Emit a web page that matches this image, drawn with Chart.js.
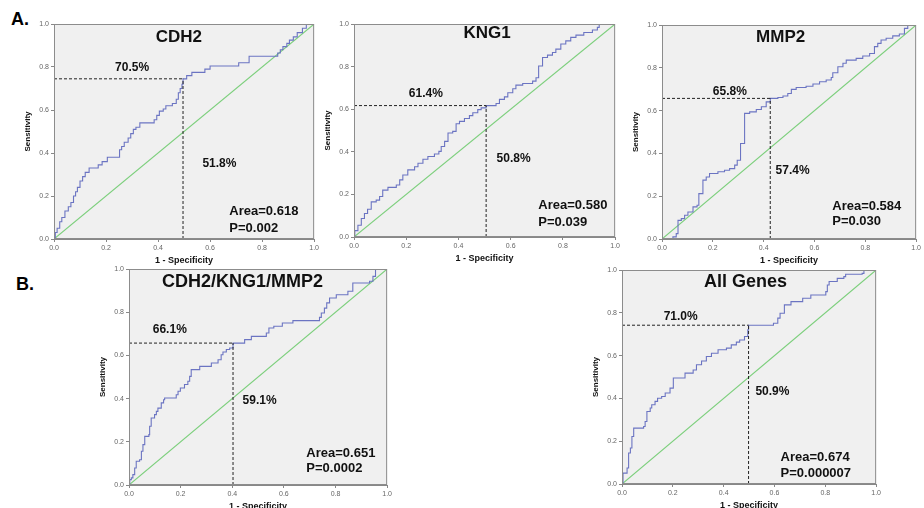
<!DOCTYPE html>
<html>
<head>
<meta charset="utf-8">
<script src="https://cdn.jsdelivr.net/npm/chart.js@4"></script>
<style>
  body { margin: 0; width: 924px; height: 508px; overflow: hidden; background: #fff; position: relative; font-family: Arial, "Liberation Sans", sans-serif; }
  canvas { position: absolute; }
  .tag { position: absolute; font-weight: bold; font-size: 18px; color: #000; }
</style>
</head>
<body>
<div class="tag" style="left:11px; top:9px;">A.</div>
<div class="tag" style="left:16px; top:274px;">B.</div>
<canvas id="c1"></canvas>
<canvas id="c2"></canvas>
<canvas id="c3"></canvas>
<canvas id="c4"></canvas>
<canvas id="c5"></canvas>
<script>
// ROC curves: x = 1 - specificity where sensitivity rises, y = new sensitivity
const cdh2Fpr = [0, 0.005, 0.012, 0.022, 0.03, 0.042, 0.055, 0.065, 0.075, 0.083, 0.09, 0.1, 0.11, 0.12, 0.135, 0.17, 0.185, 0.205, 0.252, 0.26, 0.27, 0.285, 0.295, 0.305, 0.315, 0.33, 0.385, 0.395, 0.405, 0.42, 0.43, 0.455, 0.47, 0.478, 0.485, 0.492, 0.496, 0.51, 0.53, 0.58, 0.6, 0.71, 0.75, 0.86, 0.87, 0.88, 0.895, 0.905, 0.92, 0.935, 0.955, 0.97, 1.0];
const cdh2Tpr = [0, 0.03, 0.05, 0.08, 0.1, 0.13, 0.15, 0.17, 0.2, 0.22, 0.24, 0.27, 0.29, 0.31, 0.33, 0.345, 0.36, 0.38, 0.415, 0.43, 0.45, 0.47, 0.49, 0.51, 0.52, 0.54, 0.555, 0.575, 0.595, 0.605, 0.62, 0.63, 0.65, 0.68, 0.7, 0.72, 0.745, 0.76, 0.775, 0.79, 0.805, 0.82, 0.85, 0.865, 0.88, 0.895, 0.91, 0.925, 0.94, 0.96, 0.98, 1.0, 1.0];

const kng1Fpr = [0, 0.003, 0.015, 0.028, 0.04, 0.052, 0.066, 0.085, 0.098, 0.11, 0.13, 0.162, 0.175, 0.187, 0.206, 0.232, 0.245, 0.264, 0.283, 0.308, 0.325, 0.334, 0.347, 0.36, 0.378, 0.391, 0.404, 0.423, 0.442, 0.455, 0.474, 0.487, 0.506, 0.544, 0.557, 0.576, 0.589, 0.608, 0.62, 0.646, 0.684, 0.697, 0.707, 0.722, 0.741, 0.76, 0.773, 0.792, 0.811, 0.83, 0.85, 0.88, 0.913, 0.932, 0.939, 1.0];
const kng1Tpr = [0, 0.03, 0.055, 0.087, 0.11, 0.13, 0.165, 0.173, 0.19, 0.22, 0.233, 0.244, 0.268, 0.291, 0.315, 0.33, 0.346, 0.365, 0.378, 0.39, 0.402, 0.425, 0.449, 0.488, 0.496, 0.532, 0.543, 0.556, 0.57, 0.583, 0.598, 0.606, 0.617, 0.627, 0.646, 0.658, 0.677, 0.696, 0.713, 0.721, 0.732, 0.748, 0.803, 0.843, 0.854, 0.866, 0.882, 0.906, 0.921, 0.937, 0.948, 0.96, 0.972, 0.984, 1.0, 1.0];

const mmp2Fpr = [0, 0.043, 0.056, 0.063, 0.076, 0.089, 0.102, 0.122, 0.138, 0.145, 0.161, 0.174, 0.187, 0.22, 0.246, 0.266, 0.286, 0.296, 0.309, 0.325, 0.345, 0.371, 0.391, 0.41, 0.426, 0.456, 0.476, 0.495, 0.509, 0.528, 0.567, 0.594, 0.62, 0.646, 0.666, 0.672, 0.692, 0.712, 0.725, 0.764, 0.79, 0.817, 0.836, 0.849, 0.862, 0.882, 0.908, 0.934, 0.954, 0.967, 1.0];
const mmp2Tpr = [0, 0.01, 0.025, 0.087, 0.095, 0.111, 0.126, 0.15, 0.158, 0.212, 0.275, 0.29, 0.306, 0.314, 0.321, 0.329, 0.345, 0.368, 0.446, 0.587, 0.594, 0.605, 0.618, 0.641, 0.657, 0.661, 0.668, 0.68, 0.699, 0.708, 0.714, 0.724, 0.735, 0.743, 0.755, 0.777, 0.805, 0.821, 0.836, 0.844, 0.855, 0.867, 0.899, 0.914, 0.93, 0.938, 0.949, 0.958, 0.984, 1.0, 1.0];

const combFpr = [0, 0.003, 0.009, 0.015, 0.022, 0.028, 0.041, 0.048, 0.054, 0.061, 0.077, 0.08, 0.086, 0.099, 0.106, 0.112, 0.125, 0.134, 0.138, 0.183, 0.19, 0.199, 0.215, 0.228, 0.235, 0.241, 0.274, 0.319, 0.345, 0.357, 0.364, 0.377, 0.39, 0.403, 0.448, 0.474, 0.532, 0.542, 0.561, 0.594, 0.635, 0.738, 0.745, 0.757, 0.766, 0.777, 0.803, 0.848, 0.867, 0.932, 0.945, 0.955, 1.0];
const combTpr = [0, 0.025, 0.033, 0.048, 0.079, 0.11, 0.117, 0.156, 0.187, 0.225, 0.233, 0.272, 0.31, 0.326, 0.341, 0.356, 0.38, 0.395, 0.403, 0.418, 0.434, 0.449, 0.465, 0.48, 0.503, 0.534, 0.549, 0.565, 0.58, 0.603, 0.616, 0.627, 0.634, 0.657, 0.673, 0.688, 0.704, 0.727, 0.735, 0.75, 0.761, 0.776, 0.796, 0.819, 0.843, 0.866, 0.881, 0.897, 0.935, 0.943, 0.966, 1.0, 1.0];

const allFpr = [0, 0.004, 0.02, 0.026, 0.033, 0.039, 0.046, 0.085, 0.091, 0.098, 0.111, 0.117, 0.13, 0.14, 0.156, 0.17, 0.189, 0.202, 0.248, 0.28, 0.293, 0.313, 0.332, 0.352, 0.378, 0.411, 0.43, 0.45, 0.463, 0.482, 0.495, 0.498, 0.596, 0.613, 0.622, 0.639, 0.665, 0.711, 0.743, 0.802, 0.808, 0.815, 0.847, 0.873, 0.88, 0.945, 0.952, 1.0];
const allTpr = [0, 0.051, 0.075, 0.145, 0.168, 0.222, 0.261, 0.269, 0.292, 0.339, 0.355, 0.37, 0.386, 0.401, 0.409, 0.425, 0.448, 0.495, 0.518, 0.533, 0.557, 0.575, 0.596, 0.611, 0.627, 0.635, 0.65, 0.663, 0.673, 0.689, 0.72, 0.742, 0.751, 0.775, 0.798, 0.837, 0.852, 0.868, 0.883, 0.899, 0.93, 0.946, 0.961, 0.969, 0.98, 0.984, 1.0, 1.0];

// cut-off point [1 - specificity, sensitivity]
const cdh2Cut = [0.496, 0.745];
const kng1Cut = [0.506, 0.617];
const mmp2Cut = [0.426, 0.657];
const combCut = [0.403, 0.657];
const allCut = [0.498, 0.742];

const panelTitles = ['CDH2', 'KNG1', 'MMP2', 'CDH2/KNG1/MMP2', 'All Genes'];
const sensLabels = ['70.5%', '61.4%', '65.8%', '66.1%', '71.0%'];
const specLabels = ['51.8%', '50.8%', '57.4%', '59.1%', '50.9%'];
const areaLabels = ['Area=0.618', 'Area=0.580', 'Area=0.584', 'Area=0.651', 'Area=0.674'];
const pLabels = ['P=0.002', 'P=0.039', 'P=0.030', 'P=0.0002', 'P=0.000007'];
const tickValues = [0, 0.2, 0.4, 0.6, 0.8, 1.0];

const FONT = 'Arial, "Liberation Sans", sans-serif';

// canvas boxes and where the texts sit (in axis units)
const panels = [
    { id: 'c1', left: 10, top: 16, width: 311, height: 253, fpr: cdh2Fpr, tpr: cdh2Tpr, cut: cdh2Cut,
      titlePos: [0.48, 0.94], titleSize: 17, sensPos: [0.30, 0.795], specPos: [0.636, 0.349], areaPos: [0.674, 0.13], pPos: [0.674, 0.05] },
    { id: 'c2', left: 310, top: 16, width: 312, height: 251, fpr: kng1Fpr, tpr: kng1Tpr, cut: kng1Cut,
      titlePos: [0.51, 0.955], titleSize: 17, sensPos: [0.275, 0.671], specPos: [0.611, 0.366], areaPos: [0.706, 0.146], pPos: [0.706, 0.07] },
    { id: 'c3', left: 618, top: 17, width: 305, height: 252, fpr: mmp2Fpr, tpr: mmp2Tpr, cut: mmp2Cut,
      titlePos: [0.467, 0.944], titleSize: 17, sensPos: [0.267, 0.687], specPos: [0.514, 0.318], areaPos: [0.67, 0.154], pPos: [0.67, 0.08] },
    { id: 'c4', left: 85, top: 261, width: 309, height: 254, fpr: combFpr, tpr: combTpr, cut: combCut,
      titlePos: [0.44, 0.94], titleSize: 18, sensPos: [0.158, 0.718], specPos: [0.506, 0.389], areaPos: [0.687, 0.148], pPos: [0.687, 0.079] },
    { id: 'c5', left: 578, top: 262, width: 305, height: 252, fpr: allFpr, tpr: allTpr, cut: allCut,
      titlePos: [0.486, 0.944], titleSize: 18, sensPos: [0.231, 0.78], specPos: [0.592, 0.43], areaPos: [0.624, 0.126], pPos: [0.624, 0.051] }
];

const rocDecor = {
    id: 'rocDecor',
    beforeDatasetsDraw(chart) {
        const { ctx, chartArea: a } = chart;
        ctx.save();
        ctx.fillStyle = '#f0f0f0';
        ctx.fillRect(a.left, a.top, a.right - a.left, a.bottom - a.top);
        ctx.restore();
    },
    afterDraw(chart, args, opts) {
        const { ctx, chartArea: a, scales } = chart;
        ctx.save();
        ctx.strokeStyle = '#8c8c8c';
        ctx.lineWidth = 1;
        ctx.strokeRect(a.left + 0.5, a.top + 0.5, a.right - a.left - 1, a.bottom - a.top - 1);
        ctx.fillStyle = '#111';
        ctx.textBaseline = 'middle';
        opts.texts.forEach(t => {
            ctx.font = `bold ${t.size}px ${FONT}`;
            ctx.textAlign = t.align;
            ctx.fillText(t.text, scales.x.getPixelForValue(t.x), scales.y.getPixelForValue(t.y));
        });
        ctx.restore();
    }
};

function axis(title, isX) {
    return {
        type: 'linear',
        min: 0,
        max: 1,
        afterBuildTicks: s => { s.ticks = tickValues.map(v => ({ value: v })); },
        afterFit: s => { if (isX) s.height = 30; else s.width = 44; },
        ticks: {
            callback: v => v.toFixed(1),
            font: { size: 7, family: FONT },
            color: '#666',
            padding: 2,
            maxRotation: 0
        },
        grid: { drawOnChartArea: false, tickLength: 3, color: '#888' },
        border: { display: true, color: '#888' },
        title: {
            display: true,
            text: title,
            color: '#111',
            font: { size: isX ? 9 : 8, weight: 'bold', family: FONT },
            padding: isX ? { top: 2, bottom: 3 } : { top: 13, bottom: 2 }
        }
    };
}

panels.forEach((p, i) => {
    const canvas = document.getElementById(p.id);
    canvas.width = p.width;
    canvas.height = p.height;
    canvas.style.left = p.left + 'px';
    canvas.style.top = p.top + 'px';

    const curve = p.fpr.map((x, k) => ({ x: x, y: p.tpr[k] }));

    new Chart(canvas, {
        type: 'scatter',
        data: {
            datasets: [
                {
                    data: [{ x: 0, y: p.cut[1] }, { x: p.cut[0], y: p.cut[1] }],
                    showLine: true, borderColor: '#222', borderWidth: 1, borderDash: [3, 2], pointRadius: 0
                },
                {
                    data: [{ x: p.cut[0], y: 0 }, { x: p.cut[0], y: p.cut[1] }],
                    showLine: true, borderColor: '#222', borderWidth: 1, borderDash: [3, 2], pointRadius: 0
                },
                {
                    data: curve,
                    showLine: true, stepped: 'before', borderColor: '#6b74c2', borderWidth: 1.1, pointRadius: 0
                },
                {
                    data: [{ x: 0, y: 0 }, { x: 1, y: 1 }],
                    showLine: true, borderColor: '#7ccf7c', borderWidth: 1.1, pointRadius: 0
                }
            ]
        },
        options: {
            responsive: false,
            animation: false,
            devicePixelRatio: 1,
            layout: { autoPadding: false, padding: { top: 8, right: 6, left: 0, bottom: 0 } },
            scales: {
                x: axis('1 - Specificity', true),
                y: axis('Sensitivity', false)
            },
            plugins: {
                legend: { display: false },
                tooltip: { enabled: false },
                rocDecor: {
                    texts: [
                        { text: panelTitles[i], x: p.titlePos[0], y: p.titlePos[1], size: p.titleSize, align: 'center' },
                        { text: sensLabels[i], x: p.sensPos[0], y: p.sensPos[1], size: 12, align: 'center' },
                        { text: specLabels[i], x: p.specPos[0], y: p.specPos[1], size: 12, align: 'center' },
                        { text: areaLabels[i], x: p.areaPos[0], y: p.areaPos[1], size: 13, align: 'left' },
                        { text: pLabels[i], x: p.pPos[0], y: p.pPos[1], size: 13, align: 'left' }
                    ]
                }
            }
        },
        plugins: [rocDecor]
    });
});
</script>
</body>
</html>
